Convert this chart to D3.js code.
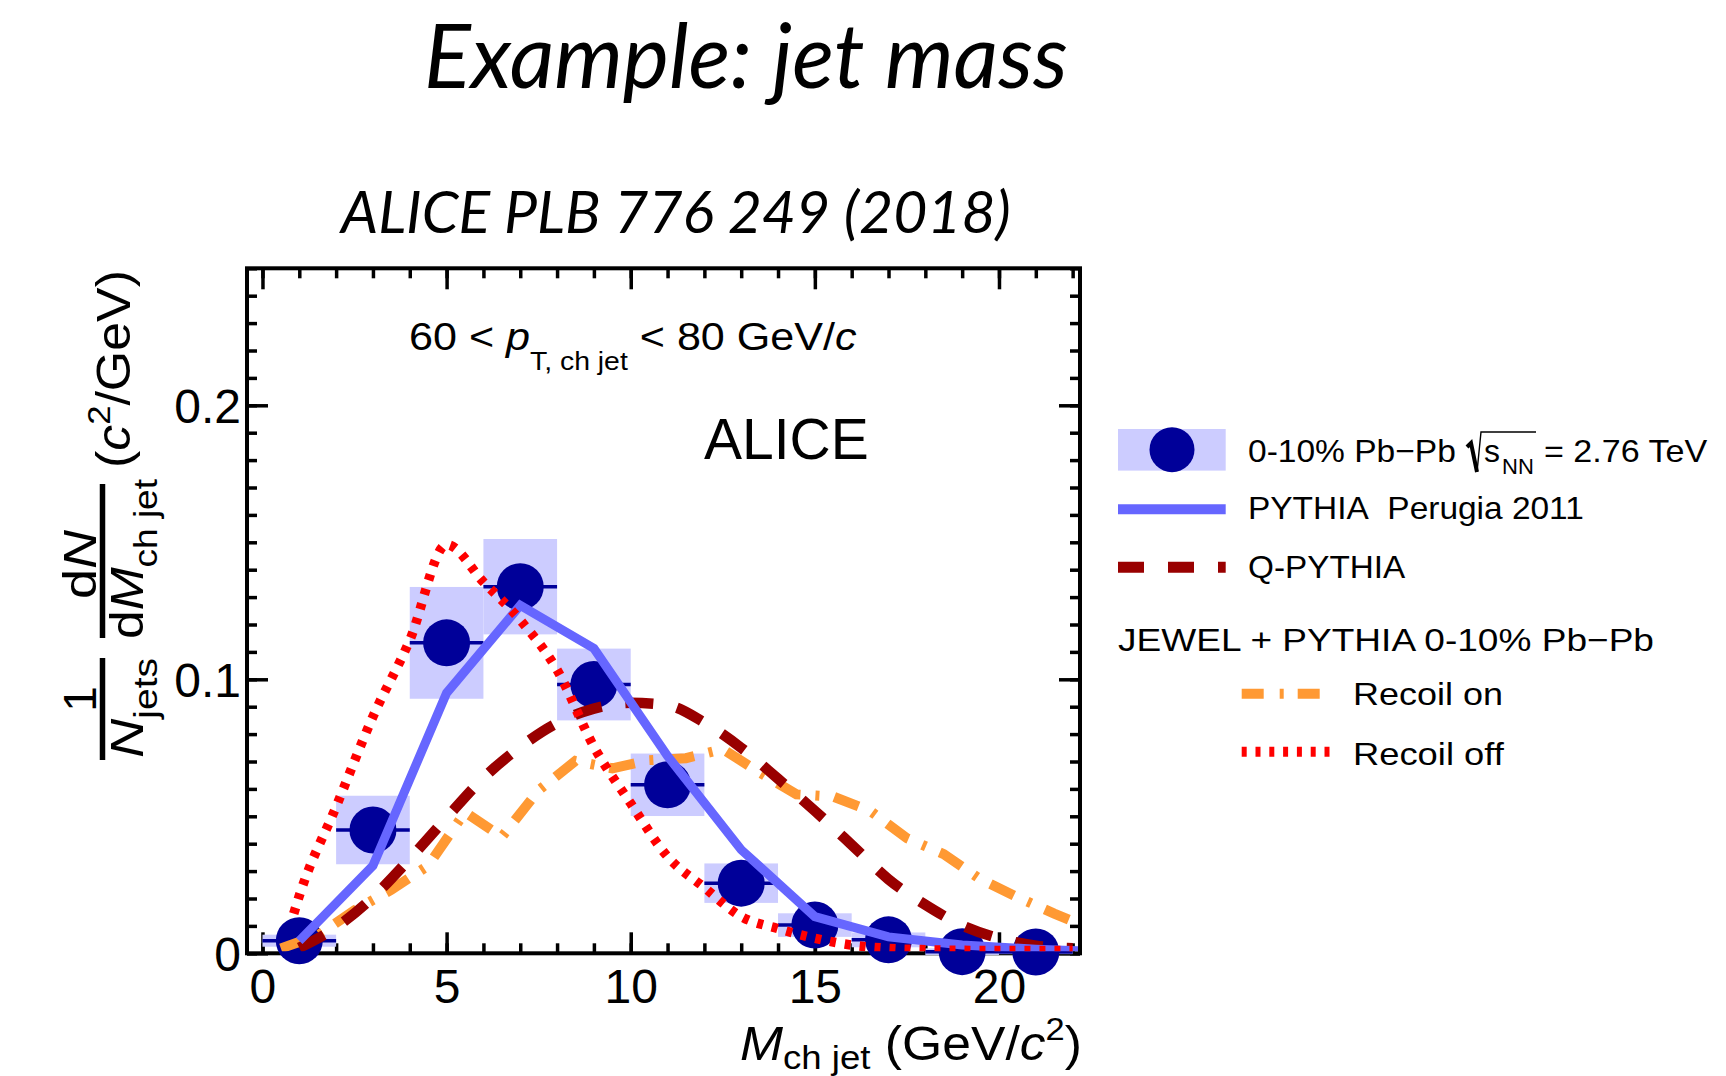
<!DOCTYPE html>
<html>
<head>
<meta charset="utf-8">
<script src="https://cdn.jsdelivr.net/npm/d3@7"></script>
<style>
  html, body { margin: 0; padding: 0; background: #ffffff; }
  svg { display: block; }
  text { font-family: "Liberation Sans", Arial, Helvetica, sans-serif; fill: #000; }
  .slide-title { font-family: Lato, "Open Sans", sans-serif; font-style: italic; }
</style>
</head>
<body>
<svg id="chart" width="1726" height="1076"></svg>
<script>
// ---------------------------------------------------------------
// Charged-jet mass distribution, 0-10% Pb-Pb, 60 < pT,ch jet < 80 GeV/c
// ---------------------------------------------------------------

// Measured points (bin centres, 2 GeV/c^2 wide bins)
const massBins   = [1, 3, 5, 7, 9, 11, 13, 15, 17, 19, 21];
const binLow     = [0, 2, 4, 6, 8, 10, 12, 14, 16, 18, 20];
const binHigh    = [2, 4, 6, 8, 10, 12, 14, 16, 18, 20, 22];
const pbpbValues = [0.0046, 0.0450, 0.1133, 0.1338, 0.0981, 0.0615, 0.0256, 0.0103, 0.0049, 0.0006, 0.0005];
const pbpbSys    = [0.0022, 0.0125, 0.0204, 0.0174, 0.0131, 0.0114, 0.0072, 0.0043, 0.0027, 0.0012, 0.0008];

// PYTHIA Perugia 2011
const pythiaMass   = [1, 3, 5, 7, 9, 11, 13, 15, 17, 19, 21, 23];
const pythiaValues = [0.0045, 0.0320, 0.0950, 0.1270, 0.1113, 0.0720, 0.0378, 0.0134, 0.0060, 0.0030, 0.0015, 0.0005];

// Q-PYTHIA
const qpythiaMass   = [1, 2, 3, 4, 5, 6, 7, 8, 9, 10, 11, 12, 13, 14, 15, 16, 17, 18, 19, 20, 21, 22];
const qpythiaValues = [0.0020, 0.0095, 0.0205, 0.0345, 0.0495, 0.0640, 0.0753, 0.0840, 0.0893, 0.0914, 0.0905, 0.0842,
                       0.0750, 0.0637, 0.0520, 0.0396, 0.0270, 0.0177, 0.0102, 0.0055, 0.0028, 0.0018];

// JEWEL + PYTHIA, recoil on
const recoilOnMass   = [0.5, 1.5, 2.5, 3.5, 4.5, 5.5, 6.5, 7.5, 8.5, 9.5, 10.5, 11.5,
                        12.5, 13.5, 14.5, 15.5, 16.5, 17.5, 18.5, 19.5, 20.5, 21.5, 22.5];
const recoilOnValues = [0.0018, 0.0065, 0.0157, 0.0232, 0.0320, 0.0515, 0.0425, 0.0595, 0.0702, 0.0675, 0.0705, 0.0712,
                        0.0745, 0.0660, 0.0580, 0.0572, 0.0520, 0.0420, 0.0362, 0.0270, 0.0205, 0.0145, 0.0090];

// JEWEL + PYTHIA, recoil off
const recoilOffMass   = [0.85, 1, 2, 3, 4, 5, 6, 7, 8, 9, 10, 11, 12, 13, 14, 15, 16, 17, 18, 19, 20, 21, 22];
const recoilOffValues = [0.0145, 0.0210, 0.0535, 0.0864, 0.1143, 0.1492, 0.1355, 0.1216, 0.1034, 0.0754, 0.0547, 0.0353,
                         0.0240, 0.0134, 0.0090, 0.0055, 0.0030, 0.0018, 0.0013, 0.0011, 0.0010, 0.0010, 0.0010];

// Axis ticks and labels
const xMajorTicks = [0, 5, 10, 15, 20];
const xMinorTicks = d3.range(0, 23);
const yMajorTicks = [0, 0.1, 0.2];
const yMinorTicks = d3.range(0, 26).map(i => i / 100);
const yTickLabels = ["0", "0.1", "0.2"];

// ---------------------------------------------------------------
const svg = d3.select("#chart");

const frame = { left: 247, right: 1080, top: 268.3, bottom: 953.3 };
const x = d3.scaleLinear().domain([-0.42, 22.2]).range([frame.left, frame.right]);
const y = d3.scaleLinear().domain([0, 0.25]).range([frame.bottom, frame.top]);

// stretch a text horizontally (in its own coordinates) to a given width, about origin ox
function fitWidth(sel, target, ox) {
  const bb = sel.node().getBBox();
  const s = target / bb.width;
  const o = (ox === undefined) ? bb.x : ox;
  sel.attr("transform", `translate(${o},0) scale(${s},1) translate(${-o},0)`);
}

// ---------------- slide titles ----------------
const t1 = svg.append("text").attr("class", "slide-title")
  .attr("x", 424).attr("y", 88).attr("font-size", 90)
  .text("Example: jet mass");
fitWidth(t1, 644, 424);

const t2 = svg.append("text").attr("class", "slide-title")
  .attr("x", 341).attr("y", 233.5).attr("font-size", 58)
  .text("ALICE PLB 776 249 (2018)");
fitWidth(t2, 672, 341);

// ---------------- axes (ticks pointing inwards) ----------------
const tickW = 3.5;
function styleAxis(g) {
  g.select(".domain").remove();
  g.selectAll(".tick line").attr("stroke", "#000").attr("stroke-width", tickW);
}

svg.append("g").attr("transform", `translate(0,${frame.bottom})`)
  .call(d3.axisBottom(x).tickValues(xMinorTicks).tickSizeInner(-10).tickSizeOuter(0).tickFormat(""))
  .call(styleAxis);
const xMajor = svg.append("g").attr("transform", `translate(0,${frame.bottom})`)
  .call(d3.axisBottom(x).tickValues(xMajorTicks).tickSizeInner(-21).tickSizeOuter(0).tickPadding(16).tickFormat(d3.format("d")))
  .call(styleAxis);
xMajor.selectAll(".tick text").attr("font-size", 48).attr("fill", "#000")
  .attr("font-family", "Liberation Sans, Arial, sans-serif");

svg.append("g").attr("transform", `translate(0,${frame.top})`)
  .call(d3.axisTop(x).tickValues(xMinorTicks).tickSizeInner(-10).tickSizeOuter(0).tickFormat(""))
  .call(styleAxis);
svg.append("g").attr("transform", `translate(0,${frame.top})`)
  .call(d3.axisTop(x).tickValues(xMajorTicks).tickSizeInner(-21).tickSizeOuter(0).tickFormat(""))
  .call(styleAxis);

svg.append("g").attr("transform", `translate(${frame.left},0)`)
  .call(d3.axisLeft(y).tickValues(yMinorTicks).tickSizeInner(-10).tickSizeOuter(0).tickFormat(""))
  .call(styleAxis);
const yMajor = svg.append("g").attr("transform", `translate(${frame.left},0)`)
  .call(d3.axisLeft(y).tickValues(yMajorTicks).tickSizeInner(-21).tickSizeOuter(0).tickPadding(6)
        .tickFormat((d, i) => yTickLabels[i]))
  .call(styleAxis);
yMajor.selectAll(".tick text").attr("font-size", 48).attr("fill", "#000")
  .attr("font-family", "Liberation Sans, Arial, sans-serif").attr("dy", "0.36em");

svg.append("g").attr("transform", `translate(${frame.right},0)`)
  .call(d3.axisRight(y).tickValues(yMinorTicks).tickSizeInner(-10).tickSizeOuter(0).tickFormat(""))
  .call(styleAxis);
svg.append("g").attr("transform", `translate(${frame.right},0)`)
  .call(d3.axisRight(y).tickValues(yMajorTicks).tickSizeInner(-21).tickSizeOuter(0).tickFormat(""))
  .call(styleAxis);

svg.append("rect")
  .attr("x", frame.left).attr("y", frame.top)
  .attr("width", frame.right - frame.left).attr("height", frame.bottom - frame.top)
  .attr("fill", "none").attr("stroke", "#000").attr("stroke-width", 4);

// ---------------- measured points ----------------
const points = massBins.map((m, i) => ({
  m, lo: binLow[i], hi: binHigh[i], v: pbpbValues[i], sys: pbpbSys[i]
}));

svg.append("g").selectAll("rect").data(points).join("rect")
  .attr("x", d => x(d.lo)).attr("width", d => x(d.hi) - x(d.lo))
  .attr("y", d => y(d.v + d.sys)).attr("height", d => y(d.v - d.sys) - y(d.v + d.sys))
  .attr("fill", "#ccccff");

svg.append("g").selectAll("line").data(points).join("line")
  .attr("x1", d => x(d.lo)).attr("x2", d => x(d.hi))
  .attr("y1", d => y(d.v)).attr("y2", d => y(d.v))
  .attr("stroke", "#000099").attr("stroke-width", 3.5);

svg.append("g").selectAll("circle").data(points).join("circle")
  .attr("cx", d => x(d.m)).attr("cy", d => y(d.v)).attr("r", 23.5)
  .attr("fill", "#000099");

// ---------------- model curves ----------------
svg.append("clipPath").attr("id", "frameClip").append("rect")
  .attr("x", frame.left + 2).attr("y", frame.top + 2)
  .attr("width", frame.right - frame.left - 4).attr("height", frame.bottom - frame.top - 4);

const curves = svg.append("g").attr("clip-path", "url(#frameClip)");

function drawCurve(xs, ys, style, curveType) {
  const line = d3.line().x(d => x(d[0])).y(d => y(d[1])).curve(curveType);
  curves.append("path")
    .datum(xs.map((v, i) => [v, ys[i]]))
    .attr("d", line)
    .attr("fill", "none")
    .attr("stroke", style.color)
    .attr("stroke-width", style.width)
    .attr("stroke-dasharray", style.dash || null)
    .attr("stroke-linejoin", "miter");
}

const styles = {
  pythia:    { color: "#6666ff", width: 9 },
  qpythia:   { color: "#990000", width: 10.5, dash: "28,24" },
  recoilOn:  { color: "#ff9933", width: 10, dash: "26,15,4,15" },
  recoilOff: { color: "#ff0000", width: 9.5, dash: "6,9" }
};

drawCurve(recoilOnMass, recoilOnValues, styles.recoilOn, d3.curveLinear);
drawCurve(qpythiaMass, qpythiaValues, styles.qpythia, d3.curveMonotoneX);
drawCurve(pythiaMass, pythiaValues, styles.pythia, d3.curveLinear);
drawCurve(recoilOffMass, recoilOffValues, styles.recoilOff, d3.curveMonotoneX);

// ---------------- in-plot labels ----------------
const kin = svg.append("text").attr("x", 409).attr("y", 350).attr("font-size", 39.5);
kin.append("tspan").text("60 < ");
kin.append("tspan").attr("font-style", "italic").text("p");
kin.append("tspan").attr("font-size", 26).attr("dy", 20).text("T, ch jet");
kin.append("tspan").attr("dy", -20).text(" < 80 GeV/");
kin.append("tspan").attr("font-style", "italic").text("c");
fitWidth(kin, 448, 409);

svg.append("text").attr("x", 704).attr("y", 459.3).attr("font-size", 57).text("ALICE");

// ---------------- axis titles ----------------
const xt = svg.append("text").attr("x", 740).attr("y", 1060).attr("font-size", 48);
xt.append("tspan").attr("font-style", "italic").text("M");
xt.append("tspan").attr("font-size", 34).attr("dy", 9).text("ch jet");
xt.append("tspan").attr("dy", -9).text(" (GeV/");
xt.append("tspan").attr("font-style", "italic").text("c");
xt.append("tspan").attr("font-size", 32).attr("dy", -20).text("2");
xt.append("tspan").attr("dy", 20).text(")");
fitWidth(xt, 342, 740);

// y title: rotated, local x = -page y, local y = page x
const yt = svg.append("g").attr("transform", "rotate(-90)");
// 1 / N_jets
yt.append("text").attr("x", -699).attr("y", 96).attr("font-size", 46)
  .attr("text-anchor", "middle").text("1");
yt.append("line").attr("x1", -760).attr("x2", -658).attr("y1", 102.5).attr("y2", 102.5)
  .attr("stroke", "#000").attr("stroke-width", 5.5);
const nj = yt.append("text").attr("x", -758).attr("y", 143).attr("font-size", 46);
nj.append("tspan").attr("font-style", "italic").text("N");
nj.append("tspan").attr("font-size", 33).attr("dy", 14).text("jets");
fitWidth(nj, 100, -758);
// dN / dM_ch jet
const dn = yt.append("text").attr("x", -599).attr("y", 96).attr("font-size", 46);
dn.append("tspan").text("d");
dn.append("tspan").attr("font-style", "italic").text("N");
fitWidth(dn, 70, -599);
yt.append("line").attr("x1", -638).attr("x2", -484).attr("y1", 102.5).attr("y2", 102.5)
  .attr("stroke", "#000").attr("stroke-width", 5.5);
const dm = yt.append("text").attr("x", -639).attr("y", 143).attr("font-size", 46);
dm.append("tspan").text("d");
dm.append("tspan").attr("font-style", "italic").text("M");
dm.append("tspan").attr("font-size", 33).attr("dy", 14).text("ch jet");
fitWidth(dm, 160, -639);
// (c^2/GeV)
const un = yt.append("text").attr("x", -468).attr("y", 130).attr("font-size", 48);
un.append("tspan").text("(");
un.append("tspan").attr("font-style", "italic").text("c");
un.append("tspan").attr("font-size", 32).attr("dy", -20).text("2");
un.append("tspan").attr("dy", 20).text("/GeV)");
fitWidth(un, 198, -468);

// ---------------- legend ----------------
const legend = svg.append("g");
// row 1: data
legend.append("rect").attr("x", 1118).attr("y", 429).attr("width", 107.7).attr("height", 41.6).attr("fill", "#ccccff");
legend.append("circle").attr("cx", 1172).attr("cy", 449.7).attr("r", 22.5).attr("fill", "#000099");
const l1a = legend.append("text").attr("x", 1248).attr("y", 462.2).attr("font-size", 32).text("0-10% Pb\u2212Pb");
fitWidth(l1a, 208, 1248);
legend.append("path").attr("d", "M1467,447 L1471,443 L1477,472")
  .attr("fill", "none").attr("stroke", "#000").attr("stroke-width", 4);
legend.append("path").attr("d", "M1477,472 L1481,432 L1536,432")
  .attr("fill", "none").attr("stroke", "#000").attr("stroke-width", 1.4);
legend.append("text").attr("x", 1484).attr("y", 462.2).attr("font-size", 32).text("s");
legend.append("text").attr("x", 1502).attr("y", 474).attr("font-size", 22).text("NN");
const l1b = legend.append("text").attr("x", 1544).attr("y", 462.2).attr("font-size", 32).text("= 2.76 TeV");
fitWidth(l1b, 164, 1544);

const legendLines = [
  { label: "PYTHIA\u00a0 Perugia 2011", style: styles.pythia, x1: 1118, x2: 1225.7, ly: 509.3, tx: 1248, ty: 519.4, tw: 336, w: 10 },
  { label: "Q-PYTHIA", style: styles.qpythia, x1: 1118, x2: 1225.7, ly: 567.2, tx: 1248, ty: 578.4, tw: 158, w: 11, dash: "26,24" },
  { label: "Recoil on", style: styles.recoilOn, x1: 1241.7, x2: 1321.6, ly: 693.8, tx: 1353, ty: 704.6, tw: 150, w: 10, dash: "22,16,4,14" },
  { label: "Recoil off", style: styles.recoilOff, x1: 1241.7, x2: 1329.5, ly: 751.7, tx: 1353, ty: 765.2, tw: 151, w: 10, dash: "5,8.8" }
];
legendLines.forEach(e => {
  legend.append("line").attr("x1", e.x1).attr("x2", e.x2).attr("y1", e.ly).attr("y2", e.ly)
    .attr("stroke", e.style.color).attr("stroke-width", e.w)
    .attr("stroke-dasharray", e.dash || null);
  const t = legend.append("text").attr("x", e.tx).attr("y", e.ty).attr("font-size", 32).text(e.label);
  fitWidth(t, e.tw, e.tx);
});
const jw = legend.append("text").attr("x", 1118).attr("y", 650.7).attr("font-size", 32)
  .text("JEWEL + PYTHIA 0-10% Pb\u2212Pb");
fitWidth(jw, 536, 1118);
</script>
</body>
</html>
